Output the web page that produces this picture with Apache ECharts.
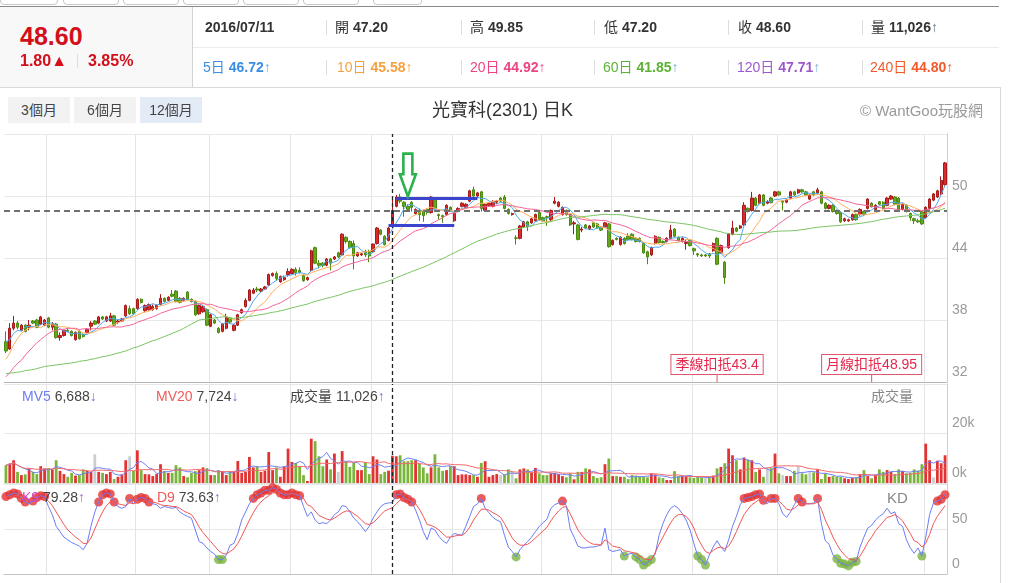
<!DOCTYPE html>
<html><head><meta charset="utf-8">
<script src="https://cdn.jsdelivr.net/npm/echarts/dist/echarts.min.js"></script>
<style>
body{margin:0;width:1010px;height:583px;overflow:hidden;background:#fff;position:relative;font-family:"Liberation Sans",Arial,"Noto Sans CJK TC",sans-serif;color:#333}
#chart{position:absolute;left:0;top:0;width:1010px;height:583px;z-index:0}
.t{position:absolute;white-space:nowrap;line-height:1;z-index:2}
.b{font-weight:bold}
.ln{position:absolute;z-index:2}
.tab{position:absolute;top:-8px;height:11px;border:1px solid #c9c9c9;border-radius:4px;background:#fff;z-index:2}
.btn{position:absolute;top:97px;height:26px;line-height:26px;font-size:14px;text-align:center;color:#444;z-index:2}
</style></head>
<body>
<div id="chart"></div>
<!-- header -->
<div class="tab" style="left:0;width:56px"></div>
<div class="tab" style="left:63px;width:54px"></div>
<div class="tab" style="left:123px;width:54px"></div>
<div class="tab" style="left:183px;width:54px"></div>
<div class="tab" style="left:243px;width:54px"></div>
<div class="tab" style="left:303px;width:54px"></div>
<div class="tab" style="left:373px;width:47px"></div>
<div class="ln" style="left:0;top:6px;width:999px;height:1px;background:#8a8a8a"></div>
<div class="ln" style="left:0;top:7px;width:192px;height:80px;background:#f8f8f8;border-right:1px solid #d3d3d3"></div>
<div class="ln" style="left:0;top:87px;width:1001px;height:1px;background:#d9d9d9"></div>
<div class="ln" style="left:193px;top:47px;width:806px;height:1px;background:#ececec"></div>
<div class="ln" style="left:1000px;top:87px;width:1px;height:496px;background:#d9d9d9"></div>
<div class="t b" style="left:20px;top:24px;font-size:25px;color:#d20f1a">48.60</div>
<div class="t b" style="left:20px;top:53px;font-size:16px;color:#d20f1a">1.80▲</div>
<div class="ln" style="left:77px;top:54px;width:1px;height:14px;background:#ddd"></div>
<div class="t b" style="left:88px;top:53px;font-size:16px;color:#d20f1a">3.85%</div>
<div id="hdr1"></div>
<div id="hdr2"></div>
<div class="btn" style="left:8px;width:62px;background:#f2f2f2">3個月</div>
<div class="btn" style="left:74px;width:62px;background:#f2f2f2">6個月</div>
<div class="btn" style="left:140px;width:62px;background:#e3ebf6">12個月</div>
<div class="t" style="left:432px;top:101px;font-size:18px;color:#333">光寶科(2301) 日K</div>
<div class="t" style="left:860px;top:103px;font-size:15px;color:#999">© WantGoo玩股網</div>
<!-- panel legends -->
<div class="t" style="left:22px;top:389px;font-size:14px"><span style="color:#6b7cf5">MV5</span> <span style="color:#444">6,688</span><span style="color:#8a6ad0">↓</span></div>
<div class="t" style="left:156px;top:389px;font-size:14px"><span style="color:#f05a5a">MV20</span> <span style="color:#444">7,724</span><span style="color:#8a6ad0">↓</span></div>
<div class="t" style="left:290px;top:389px;font-size:14px;color:#444">成交量 11,026<span style="color:#8a6ad0">↑</span></div>
<div class="t" style="left:871px;top:389px;font-size:14px;color:#888">成交量</div>
<div class="t" style="left:22px;top:490px;font-size:14px"><span style="color:#c94fd0">K9</span> <span style="color:#444">79.28</span><span style="color:#a070c0">↑</span></div>
<div class="t" style="left:157px;top:490px;font-size:14px"><span style="color:#f05a5a">D9</span> <span style="color:#444">73.63</span><span style="color:#a070c0">↑</span></div>
<div class="t" style="left:887px;top:490px;font-size:15px;color:#888">KD</div>
<script>
// ---------------- data ----------------
const months = ['2016/02','2016/03','2016/04','2016/05','2016/06','2016/07','2016/08','2016/09','2016/10','2016/11','2016/12','2017/01','2017/02'];
const monthStartIdx = [0, 11, 34, 53, 74, 95, 116, 139, 157, 178, 200, 222, 238];
const gridLineIdx = [11, 34, 53, 74, 95, 116, 139, 157, 178, 200, 238];

// [open, close, low, high]
const candles = [
[35.9,35.0,34.8,36.9],[35.2,37.2,35.1,37.7],[37.2,37.7,37.0,38.4],[37.7,37.3,37.1,37.9],[37.0,37.5,36.9,37.6],
[37.5,36.9,36.8,37.6],[37.3,37.5,37.0,38.0],[37.9,37.7,37.6,38.0],[38.0,37.3,37.2,38.1],[37.6,38.3,37.5,38.4],
[37.5,38.0,37.4,38.1],[38.2,37.3,37.2,38.3],[37.3,37.6,37.0,37.8],[37.6,36.3,36.2,37.7],[36.3,36.5,36.0,36.8],
[36.5,37.0,36.4,37.1],[37.0,36.9,36.8,37.2],[36.9,36.5,36.4,37.0],[36.1,36.8,36.0,36.9],[36.9,36.2,36.1,37.0],
[36.6,36.4,36.3,36.7],[36.8,37.1,36.7,37.2],[37.4,37.7,37.0,37.9],[37.9,37.6,37.5,38.0],[37.7,38.3,37.6,38.4],
[38.3,38.1,38.0,38.4],[37.9,38.3,37.8,38.4],[37.9,38.4,37.8,38.7],[38.4,37.5,37.4,38.5],[37.8,37.9,37.6,38.0],
[37.9,38.1,37.8,38.2],[38.4,39.4,38.3,39.5],[39.1,38.6,38.5,39.4],[39.1,38.6,38.5,39.2],[39.1,40.0,39.0,40.1],
[40.0,39.7,39.6,40.1],[38.9,39.4,38.8,39.5],[39.0,39.5,38.9,39.6],[39.0,39.3,38.9,39.5],[39.1,39.4,39.0,39.5],
[39.5,40.1,39.4,40.5],[40.1,39.8,39.7,40.2],[39.9,40.2,39.8,40.3],[40.5,40.3,40.2,40.9],[40.8,39.8,39.7,40.9],
[40.1,39.7,39.6,40.2],[39.9,40.1,39.8,40.2],[40.7,40.0,39.9,40.8],[40.0,39.8,39.7,40.1],[39.8,38.5,38.4,39.9],
[38.6,39.4,38.5,39.5],[38.8,39.3,38.7,39.4],[39.0,37.5,37.4,39.1],[37.4,38.5,37.3,38.6],[38.0,37.7,37.6,38.1],
[37.2,36.8,36.7,37.3],[36.9,37.6,36.8,37.7],[37.2,38.3,37.1,38.6],[38.2,37.8,37.7,38.3],[37.0,37.5,36.9,37.6],
[37.5,38.5,37.4,38.6],[38.7,39.0,38.6,39.1],[39.3,39.9,39.2,40.1],[39.9,40.9,39.8,41.0],[40.6,40.9,40.5,41.1],
[41.0,40.9,40.7,41.2],[40.8,41.0,40.7,41.1],[41.0,41.2,40.9,41.3],[41.4,42.4,41.3,42.5],[42.3,42.5,42.2,42.6],
[42.5,42.0,41.8,42.7],[41.7,42.2,41.6,42.3],[41.9,42.1,41.8,42.3],[42.4,42.7,42.2,43.0],[42.5,42.9,42.4,43.0],
[42.9,42.6,42.3,43.1],[42.8,42.6,42.5,43.1],[42.3,41.8,41.7,42.4],[41.9,42.1,41.8,42.2],[42.8,44.7,42.7,44.8],
[45.0,43.5,43.4,45.1],[43.5,43.3,43.0,43.8],[43.5,43.3,43.1,43.6],[43.3,43.9,43.2,44.0],[43.9,43.5,42.8,44.0],
[43.9,44.1,43.8,44.2],[44.5,44.1,44.0,44.6],[44.3,46.3,44.2,46.4],[46.0,45.6,45.4,46.1],[45.6,45.0,44.9,45.7],
[45.4,44.2,42.9,45.7],[44.2,44.5,44.1,44.6],[44.3,44.4,44.2,44.5],[44.6,44.3,44.1,44.8],[44.6,44.2,43.6,44.8],
[44.6,45.35,44.5,45.4],[45.4,46.9,45.3,47.0],[46.7,46.3,46.2,46.8],[46.1,45.3,45.2,46.2],[45.7,46.9,45.6,47.0],
[47.2,48.6,47.2,49.85],[49.0,49.9,48.9,50.1],[49.9,49.5,49.3,50.2],[49.4,49.0,48.0,49.5],[49.0,48.7,48.6,49.2],
[49.4,48.9,48.5,49.5],[48.3,48.7,48.2,48.8],[48.6,48.2,47.6,48.8],[48.5,48.1,47.5,48.7],[48.7,48.4,48.2,48.8],
[48.4,49.9,48.3,50.0],[49.6,48.8,48.7,49.7],[48.2,48.1,47.7,48.3],[48.1,48.0,47.4,48.2],[48.2,49.1,48.1,49.2],
[48.9,48.6,48.5,49.0],[47.6,48.3,47.5,48.4],[48.6,48.8,48.5,48.9],[49.0,49.3,48.9,49.4],[48.9,49.2,48.8,49.3],
[49.5,50.5,49.4,50.6],[50.6,50.0,49.9,50.9],[50.0,50.3,49.8,50.4],[50.4,48.8,48.5,50.5],[48.6,49.2,48.5,49.3],
[49.1,49.3,49.0,49.4],[49.0,49.45,48.9,49.6],[49.4,49.5,49.2,49.6],[49.8,49.5,49.4,49.9],[49.9,48.8,48.7,50.1],
[48.7,48.3,48.2,48.8],[48.2,48.3,48.1,48.4],[45.95,45.9,45.3,46.2],[45.9,47.1,45.8,47.2],[47.0,47.5,46.9,47.6],
[47.5,47.0,46.6,47.6],[47.4,47.8,47.3,47.9],[47.6,48.2,47.5,48.3],[48.4,47.7,47.6,48.5],[47.9,47.6,47.5,48.0],
[48.0,47.9,47.1,48.1],[47.7,48.6,47.6,48.7],[49.3,49.5,49.2,49.9],[49.0,49.4,48.9,49.5],[48.2,48.9,48.1,49.0],
[48.6,48.2,48.1,48.7],[48.2,47.2,47.1,48.3],[47.3,47.4,46.3,47.6],[47.2,45.8,45.7,47.3],[46.7,46.8,46.5,47.0],
[47.2,46.9,46.8,47.3],[46.8,47.1,46.7,47.2],[47.4,47.0,46.9,47.5],[47.3,46.9,46.8,47.4],[47.0,46.7,46.6,47.1],
[47.0,47.4,46.9,47.5],[47.3,45.1,45.0,47.4],[45.3,45.7,45.2,45.8],[45.9,45.8,45.7,46.0],[45.3,46.0,45.2,46.1],
[45.9,45.4,45.3,46.0],[46.1,45.8,45.7,46.4],[46.3,45.8,45.7,46.4],[45.9,45.6,45.5,46.0],[45.9,45.6,45.5,46.0],
[45.4,44.5,44.4,45.5],[44.6,44.1,43.4,44.7],[44.3,45.0,44.2,45.1],[45.4,46.1,45.3,46.2],[46.0,45.5,45.4,46.1],
[45.6,45.5,45.4,45.7],[45.6,45.9,45.5,46.0],[45.9,46.7,45.8,47.2],[46.8,46.1,46.0,46.9],[46.0,45.7,45.6,46.1],
[45.6,45.9,45.5,46.0],[45.4,45.5,44.8,45.8],[45.7,45.2,45.1,45.8],[44.9,44.7,44.3,45.0],[44.4,44.3,44.1,44.5],
[44.3,44.2,44.1,44.4],[44.3,44.2,44.1,44.4],[44.4,44.2,44.0,44.5],[44.7,45.4,44.6,45.5],[45.9,43.4,43.3,46.0],
[44.5,45.2,44.4,45.3],[43.6,42.1,41.5,43.7],[45.0,46.3,44.9,46.4],[46.3,46.9,46.2,47.6],[46.9,46.6,46.5,47.0],
[46.9,47.1,46.8,47.2],[47.2,49.1,47.1,49.4],[48.8,48.6,48.4,48.9],[48.6,49.8,48.5,50.4],[49.8,49.1,49.0,49.9],
[49.3,50.1,49.2,50.2],[50.1,49.1,49.0,50.2],[49.3,49.45,49.2,49.6],[49.8,49.35,49.3,49.9],[50.0,50.4,49.9,50.5],
[50.4,50.1,50.0,50.5],[49.5,49.4,48.6,49.6],[49.4,49.6,49.3,49.7],[49.8,50.4,49.7,50.5],[50.4,50.1,50.0,50.5],
[50.3,50.6,50.2,50.7],[50.6,50.4,50.3,50.7],[50.4,50.1,50.0,50.5],[49.7,50.1,49.6,50.2],[50.4,50.1,50.0,50.5],
[50.3,50.6,50.2,50.8],[50.4,49.3,49.2,50.5],[49.3,48.8,48.7,49.4],[48.8,49.1,48.7,49.2],[49.1,48.5,48.4,49.2],
[48.6,48.3,48.2,48.7],[48.4,47.5,47.4,48.5],[47.6,47.8,47.5,47.9],[47.6,47.7,47.5,47.8],[47.7,48.2,47.6,48.3],
[48.2,47.7,47.6,48.3],[48.2,48.7,48.1,48.8],[48.5,48.2,48.1,48.6],[48.8,49.7,48.7,49.8],[49.3,48.95,48.9,49.4],
[48.7,49.1,48.6,49.2],[49.45,49.2,49.1,49.5],[49.4,48.8,48.7,49.5],[49.1,49.8,49.0,49.9],[49.7,50.0,49.6,50.1],
[49.9,49.2,49.1,50.0],[49.8,48.6,48.5,49.9],[48.7,49.2,48.6,49.3],[49.1,48.5,48.4,49.2],[48.3,47.9,47.6,48.4],
[47.8,47.6,47.3,47.9],[47.6,47.5,47.4,47.8],[48.5,47.3,47.2,48.6],[47.9,48.9,47.8,49.0],[48.8,49.7,48.7,49.8],
[49.6,50.2,49.5,50.3],[49.9,50.5,49.8,50.6],[50.2,51.5,50.1,51.9],[51.1,53.2,51.0,53.3]
];

const volume = [
7200,7900,9200,4500,3200,3500,5900,4500,3600,6800,
5900,6000,5500,9200,4900,3600,2500,4100,3000,3200,
5500,4900,4500,11600,4500,4100,3600,4500,1600,2500,
3500,9200,10800,5000,13200,5200,3600,3500,2800,3600,
7600,4900,4100,4100,7200,6300,2800,2300,4100,4800,
5200,6300,6000,3200,3200,5200,4800,3200,4400,4500,
8900,4100,4500,10500,6300,6800,4500,5000,12500,5200,
6300,2500,6600,13900,8500,8100,6600,3200,800,17900,
16900,10800,6800,9500,5500,11900,4500,12900,8800,6500,
8100,5200,5200,8500,3600,10800,9500,3600,4500,5000,
11026,10800,11200,8800,8800,9200,9200,7900,6300,3900,
6300,11600,6300,4900,5200,6800,6800,3200,3500,3500,
3200,3200,2500,8100,8800,2500,3200,3600,
3200,3500,5500,4500,1900,5500,5900,5500,4100,6100,
3900,3200,3200,3900,4100,3600,2800,2300,3900,1500,
4500,4500,5900,5500,2800,2000,2300,7600,9900,2800,
2800,2500,2500,1600,3200,3000,2800,2500,2300,3900,
3500,2300,2000,1200,1200,4800,2800,2900,2800,2300,
2000,2500,2300,2000,2500,3000,5900,6500,8000,13900,
11200,9200,5500,10300,9500,9200,4500,5500,2500,6300,
6000,11900,3900,3200,2800,2800,4900,6800,3900,3500,
4500,4300,5500,1600,3900,2500,2800,2500,2500,1900,
1600,2100,2300,3600,5200,2800,1900,3200,5500,4500,
5200,4500,3600,5500,4900,3900,4100,5500,5000,7600,
15900,9200,2300,9000,8000,11200
];
const flatVolumeIdx = [23, 32, 86, 128, 131, 181, 197, 201, 205, 208, 240];

const kValues = [
86,88,90,89,84,80,78,81,85,87, 86,75,66,53,47,41,38,35,33,31,
27,34,53,69,80,88,90,89,80,75, 73,75,84,78,83,85,84,80,78,77,
73,75,74,73,74,69,66,64,62,49, 36,34,29,25,22,16,16,21,32,34,
45,60,69,78,84,88,90,93,93,96, 94,90,88,88,90,88,87,75,64,69,
60,56,57,56,60,66,69,76,75,69, 62,58,53,47,53,62,69,75,78,79,
79.28,88,89,85,83,80,71,60,47,38, 51,49,42,37,34,41,45,44,43,53,
64,75,78,84,73,68,63,60,
58,43,30,25,19,27,32,36,41,47, 53,57,61,73,77,79,81,76,50,41,
31,29,29,30,30,31,32,51,27,25, 26,27,20,22,23,19,16,10,13,16,
22,43,56,66,73,76,73,67,60,49, 34,20,16,10,21,30,37,30,25,38,
53,64,77,84,85,86,88,89,82,78, 84,84,78,67,63,69,77,84,80,78,
78,79,84,56,37,33,21,17,12,11, 9,13,14,30,41,51,54,60,64,67,
73,67,69,56,53,38,29,23,29,20, 41,66,79,81,83,88
];
const dValues = [
86,86,87,87,86,84,82,82,82,83, 84,81,76,69,62,55,49,45,41,38,
34,34,40,50,60,69,76,80,80,78, 77,76,79,78,80,81,82,81,80,79,
77,76,76,75,75,73,70,68,66,60, 52,46,41,36,31,26,23,22,25,28,
34,42,51,60,68,75,80,84,87,90, 91,91,90,89,89,89,88,84,77,75,
70,65,63,61,60,62,65,68,70,70, 67,64,60,56,55,57,61,66,70,72,
73.63,78,82,83,83,82,78,72,64,55, 54,52,49,45,41,41,42,43,43,46,
52,60,66,72,72,71,68,66,
63,56,48,40,35,32,32,33,36,40, 44,48,52,59,65,70,74,75,67,58,
49,43,38,35,33,33,32,38,35,31, 30,29,26,25,24,23,20,17,16,16,
24,33,41,49,57,63,66,66,64,59, 51,40,32,25,23,26,29,30,28,31,
38,47,57,66,72,77,80,83,83,81, 82,83,81,77,72,71,73,77,78,78,
78,78,80,72,60,51,41,33,26,21, 17,16,15,20,27,35,41,48,53,58,
63,64,66,63,59,52,45,37,35,30, 34,44,56,64,70,76
];

// moving-average values at the left edge (window extends before the shown range)
const ma5Lead = [35.9,36.1,36.7,37.0];
const ma10Lead = [34.2,34.8,35.6,36.2,36.7,37.0,37.2,37.3,37.4];
const ma20Lead = [32.5,32.9,33.4,33.8,34.1,34.6,35.0,35.4,35.8,36.1,36.4,36.7,36.9,37.0,37.1,37.1,37.2,37.2,37.2];
const ma60Lead = [32.8,32.85,32.9,32.95,33.0,33.1,33.15,33.2,33.3,33.4,33.5,33.55,33.6,33.65,33.7,33.75,33.8,33.85,33.9,34.0,
34.05,34.1,34.2,34.25,34.35,34.45,34.5,34.6,34.7,34.8,34.9,35.0,35.15,35.3,35.4,35.55,35.7,35.85,36.0,36.1,
36.25,36.4,36.55,36.7,36.85,37.0,37.2,37.4,37.6,37.8,38.0,38.05,38.1,38.15,38.2,38.25,38.3,38.3,38.2];

const hoverIdx = 100;
const hoverClose = 48.6;
const boxUpper = {from: 101, to: 122, value: 49.75};
const boxLower = {from: 99, to: 116, value: 47.2};
const arrowAt = {idx: 104, top: 54.1, tip: 49.95};
const quarterDeductIdx = 184;
const monthDeductIdx = 224;

// header texts
const headerRow1 = [
  {x:205, label:'', value:'2016/07/11'},
  {x:335, label:'開 ', value:'47.20'},
  {x:470, label:'高 ', value:'49.85'},
  {x:604, label:'低 ', value:'47.20'},
  {x:738, label:'收 ', value:'48.60'},
  {x:871, label:'量 ', value:'11,026', arrow:'↑'}
];
const headerRow2 = [
  {x:203, label:'5日 ', value:'46.72', color:'#3a8ee6', arrowColor:'#6aaae8'},
  {x:337, label:'10日 ', value:'45.58', color:'#f5a140', arrowColor:'#f5a140'},
  {x:470, label:'20日 ', value:'44.92', color:'#ee4582', arrowColor:'#ee4582'},
  {x:603, label:'60日 ', value:'41.85', color:'#5bb334', arrowColor:'#6ab8d8'},
  {x:737, label:'120日 ', value:'47.71', color:'#9b58cc', arrowColor:'#7ab0e0'},
  {x:870, label:'240日 ', value:'44.80', color:'#f3592a', arrowColor:'#f3592a'}
];
const separatorsX = [326, 461, 594, 728, 862];

// ---------------- header rendering ----------------
(function(){
  const h1 = document.getElementById('hdr1'), h2 = document.getElementById('hdr2');
  let s = '';
  headerRow1.forEach(it => {
    s += `<div class="t" style="left:${it.x}px;top:20px;font-size:14px;color:#333">${it.label}<span class="b">${it.value}</span>${it.arrow?'<span style="color:#6a7a9a">'+it.arrow+'</span>':''}</div>`;
  });
  separatorsX.forEach(x => {
    s += `<div class="ln" style="left:${x}px;top:20px;width:1px;height:15px;background:#ddd"></div>`;
    s += `<div class="ln" style="left:${x}px;top:60px;width:1px;height:15px;background:#ddd"></div>`;
  });
  h1.innerHTML = s;
  let s2 = '';
  headerRow2.forEach(it => {
    s2 += `<div class="t" style="left:${it.x}px;top:60px;font-size:14px;color:${it.color}">${it.label}<span class="b">${it.value}</span><span style="color:${it.arrowColor}">↑</span></div>`;
  });
  h2.innerHTML = s2;
})();

// ---------------- chart ----------------
const N = candles.length;
const categories = [];
for (let i = 0; i < N; i++) {
  let m = 0;
  for (let j = 0; j < monthStartIdx.length; j++) if (i >= monthStartIdx[j]) m = j;
  categories.push(months[m] + '#' + (i - monthStartIdx[m] + 1));
}
const closes = candles.map(r => r[1]);
function movingAvg(src, n, lead) {
  return src.map((_, i) => {
    if (i < lead.length) return lead[i];
    let s = 0; for (let j = i - n + 1; j <= i; j++) s += src[j];
    return +(s / n).toFixed(3);
  });
}
function movingAvgPartial(src, n) {
  return src.map((_, i) => {
    const a = Math.max(0, i - n + 1); let s = 0;
    for (let j = a; j <= i; j++) s += src[j];
    return +(s / (i - a + 1)).toFixed(1);
  });
}
const ma5 = movingAvg(closes, 5, ma5Lead);
const ma10 = movingAvg(closes, 10, ma10Lead);
const ma20 = movingAvg(closes, 20, ma20Lead);
const ma60 = movingAvg(closes, 60, ma60Lead);
const mv5 = movingAvgPartial(volume, 5);
const mv20 = movingAvgPartial(volume, 20);

const UP = '#d92b2b', UP_B = '#a81a1a', DN = '#62a71c', DN_B = '#4b8a0e';
const volData = volume.map((v, i) => {
  const r = candles[i];
  let c = r[1] >= r[0] ? '#e23232' : '#7ab53b';
  if (flatVolumeIdx.includes(i)) c = '#c9ced3';
  return {value: v, itemStyle: {color: c}};
});
const redDots = [], greenDots = [];
kValues.forEach((k, i) => {
  if (k >= 80) redDots.push([categories[i], k]);
  else if (k <= 20) greenDots.push([categories[i], k]);
});

const vCross = {xAxis: categories[hoverIdx], lineStyle: {type: [4, 3], color: '#222', width: 1.3}};
const gridBase = {left: 4, right: 63};
function xAx(gi, lineColor) {
  return {
    type: 'category', gridIndex: gi, data: categories, boundaryGap: true,
    axisLine: {show: true, lineStyle: {color: lineColor}},
    axisTick: {show: false}, axisLabel: {show: false},
    splitLine: {show: true, interval: (i) => gridLineIdx.includes(i), lineStyle: {color: '#e4e4e4'}}
  };
}
function yAx(gi, min, max, interval, fmt) {
  return {
    type: 'value', gridIndex: gi, position: 'right', min, max, interval, scale: false,
    axisLine: {show: true, lineStyle: {color: '#cfcfcf'}},
    axisTick: {show: false},
    axisLabel: {color: '#9a9a9a', fontSize: 14, margin: 5, verticalAlign: 'bottom', lineHeight: 20,
      showMaxLabel: false, formatter: fmt || (v => v)},
    splitLine: {show: true, lineStyle: {color: '#e8e8e8'}}
  };
}
const labelFont = '"Liberation Sans", Arial, "Noto Sans CJK TC", sans-serif';

const chart = echarts.init(document.getElementById('chart'));
chart.setOption({
  animation: false,
  textStyle: {fontFamily: labelFont},
  grid: [
    Object.assign({top: 134, height: 248}, gridBase),
    Object.assign({top: 384, height: 99}, gridBase),
    Object.assign({top: 484, height: 90}, gridBase)
  ],
  xAxis: [xAx(0, '#b5b5b5'), xAx(1, '#e2e2e2'), xAx(2, '#c4c4c4')],
  yAxis: [
    yAx(0, 32, 56, 6),
    yAx(1, 0, 40000, 20000, v => (v / 1000) + 'k'),
    yAx(2, 0, 100, 50)
  ],
  series: [
    {
      name: 'K', type: 'candlestick', xAxisIndex: 0, yAxisIndex: 0,
      data: candles.map(r => [r[0], r[1], r[2], r[3]]),
      barWidth: '74%',
      itemStyle: {color: UP, color0: DN, borderColor: UP_B, borderColor0: DN_B, borderWidth: 1},
      markLine: {
        silent: true, symbol: ['none', 'none'], label: {show: false}, animation: false,
        data: [
          vCross,
          {yAxis: hoverClose, lineStyle: {type: [6, 4], color: '#707070', width: 2}},
          [{coord: [categories[boxUpper.from], boxUpper.value], lineStyle: {type: 'solid', color: '#3b44cf', width: 3}},
           {coord: [categories[boxUpper.to], boxUpper.value]}],
          [{coord: [categories[boxLower.from], boxLower.value], lineStyle: {type: 'solid', color: '#3b44cf', width: 3}},
           {coord: [categories[boxLower.to], boxLower.value]}]
        ]
      },
      markPoint: {
        silent: true, animation: false,
        data: [
          {coord: [categories[quarterDeductIdx], 32], symbol: 'rect', symbolSize: [1, 8], symbolOffset: [0, -4],
           itemStyle: {color: '#e0556a'},
           label: {show: true, position: 'top', distance: 0, formatter: '季線扣抵' + closes[quarterDeductIdx],
             color: '#e8264a', fontSize: 14, backgroundColor: '#fff', borderColor: '#e0556a', borderWidth: 1,
             padding: [3, 4, 2, 4], fontFamily: labelFont}},
          {coord: [categories[monthDeductIdx], 32], symbol: 'rect', symbolSize: [1, 8], symbolOffset: [0, -4],
           itemStyle: {color: '#e0556a'},
           label: {show: true, position: 'top', distance: 0, formatter: '月線扣抵' + closes[monthDeductIdx],
             color: '#e8264a', fontSize: 14, backgroundColor: '#fff', borderColor: '#e0556a', borderWidth: 1,
             padding: [3, 4, 2, 4], fontFamily: labelFont}}
        ]
      }
    },
    {name: 'MA5', type: 'line', xAxisIndex: 0, yAxisIndex: 0, data: ma5, showSymbol: false, silent: true, lineStyle: {width: 1, color: '#4ea6ee'}},
    {name: 'MA10', type: 'line', xAxisIndex: 0, yAxisIndex: 0, data: ma10, showSymbol: false, silent: true, lineStyle: {width: 1, color: '#ffad5c'}},
    {name: 'MA20', type: 'line', xAxisIndex: 0, yAxisIndex: 0, data: ma20, showSymbol: false, silent: true, lineStyle: {width: 1, color: '#f2639a'}},
    {name: 'MA60', type: 'line', xAxisIndex: 0, yAxisIndex: 0, data: ma60, showSymbol: false, silent: true, lineStyle: {width: 1, color: '#78c463'}},
    {
      name: 'VOL', type: 'bar', xAxisIndex: 1, yAxisIndex: 1, data: volData, barWidth: '72%', silent: true,
      markLine: {silent: true, symbol: ['none', 'none'], label: {show: false}, data: [vCross]}
    },
    {name: 'MV5', type: 'line', xAxisIndex: 1, yAxisIndex: 1, data: mv5, showSymbol: false, silent: true, lineStyle: {width: 1, color: '#6f80f6'}},
    {name: 'MV20', type: 'line', xAxisIndex: 1, yAxisIndex: 1, data: mv20, showSymbol: false, silent: true, lineStyle: {width: 1, color: '#f36a6a'}},
    {
      name: 'K9', type: 'line', xAxisIndex: 2, yAxisIndex: 2, data: kValues, showSymbol: false, silent: true,
      lineStyle: {width: 1, color: '#6a7cf4'},
      markLine: {silent: true, symbol: ['none', 'none'], label: {show: false}, data: [vCross]}
    },
    {name: 'D9', type: 'line', xAxisIndex: 2, yAxisIndex: 2, data: dValues, showSymbol: false, silent: true, lineStyle: {width: 1, color: '#f25555'}},
    {name: 'KD高檔', type: 'scatter', xAxisIndex: 2, yAxisIndex: 2, data: redDots, symbolSize: 9, silent: true, itemStyle: {color: '#e53333'}},
    {name: 'KD低檔', type: 'scatter', xAxisIndex: 2, yAxisIndex: 2, data: greenDots, symbolSize: 9, silent: true, itemStyle: {color: '#7cb342'}}
  ]
});

// hollow green arrow annotation, positioned through the chart's own scales
(function(){
  const top = chart.convertToPixel({xAxisIndex: 0, yAxisIndex: 0}, [categories[arrowAt.idx], arrowAt.top]);
  const tip = chart.convertToPixel({xAxisIndex: 0, yAxisIndex: 0}, [categories[arrowAt.idx], arrowAt.tip]);
  const cx = top[0], h = tip[1] - top[1];
  const headY = top[1] + h * 0.48;
  const pts = [[cx - 4.5, top[1]], [cx + 4.5, top[1]], [cx + 4.5, headY], [cx + 8, headY], [cx, tip[1]],
               [cx - 8, headY], [cx - 4.5, headY]];
  chart.setOption({graphic: [{type: 'polygon', z: 100, silent: true, shape: {points: pts},
    style: {fill: 'none', stroke: '#2bb24c', lineWidth: 2.6, lineJoin: 'miter'}}]});
})();
</script>
</body></html>
